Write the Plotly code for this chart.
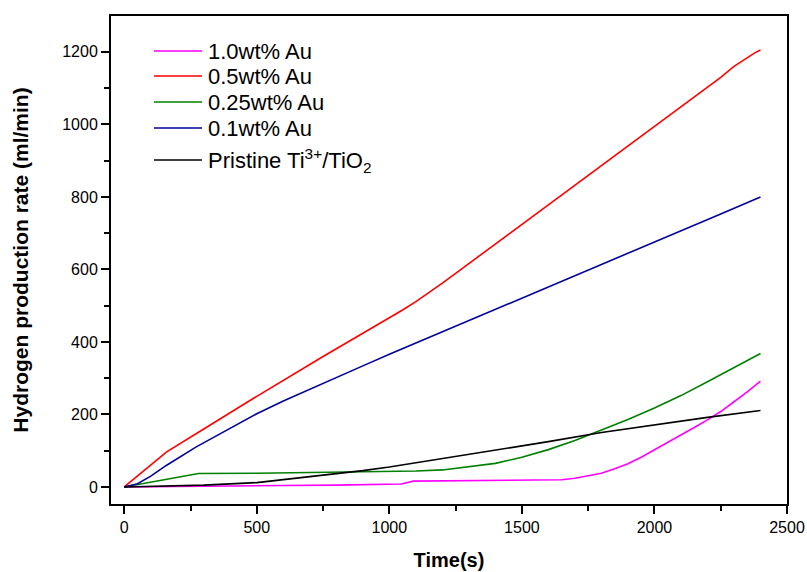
import plotly.graph_objects as go

# --- data ---
t_m = [0, 200, 400, 600, 800, 1000, 1045, 1090, 1200, 1400, 1600, 1650, 1700, 1750, 1800, 1850, 1900, 1950, 2000, 2050, 2100, 2150, 2200, 2250, 2300, 2350, 2400]
y_m = [0, 2, 3, 4, 5, 7, 8, 16, 17, 17, 19, 20, 24, 30, 38, 50, 64, 82, 102, 122, 143, 164, 185, 208, 235, 262, 292]

t_r = [0, 160, 300, 500, 750, 1000, 1050, 1100, 1150, 1200, 1250, 1300, 1500, 1750, 2000, 2250, 2300, 2350, 2380, 2400]
y_r = [0, 97, 160, 250, 360, 466, 488, 511, 536, 562, 589, 616, 725, 860, 995, 1130, 1160, 1185, 1198, 1205]

t_g = [0, 280, 500, 800, 1000, 1100, 1200, 1300, 1400, 1500, 1600, 1700, 1800, 1900, 2000, 2100, 2200, 2300, 2400]
y_g = [0, 37, 38, 40, 42, 44, 47, 55, 65, 82, 103, 128, 156, 186, 218, 252, 290, 328, 368]

t_b = [0, 50, 100, 160, 270, 400, 500, 600, 700, 800, 900, 1000, 1250, 1500, 1750, 2000, 2250, 2400]
y_b = [0, 9, 30, 60, 110, 163, 202, 237, 270, 302, 334, 366, 443, 521, 598, 676, 753, 800]

t_k = [0, 300, 500, 700, 900, 1000, 1200, 1400, 1600, 1800, 2000, 2200, 2400]
y_k = [0, 5, 12, 28, 45, 55, 78, 100, 125, 150, 172, 192, 211]

names = ["1.0wt% Au", "0.5wt% Au", "0.25wt% Au", "0.1wt% Au",
         "Pristine Ti<sup>3+</sup>/TiO<sub>2</sub>"]
colors = ["#FF00FF", "#FF0000", "#008000", "#000099", "#000000"]
series = [(t_m, y_m), (t_r, y_r), (t_g, y_g), (t_b, y_b), (t_k, y_k)]

W, H = 807, 572
ML, MR, MT, MB = 111, 20, 16, 68
PW, PH = W - ML - MR, H - MT - MB


def px_x(px):
    return (px - ML) / PW


def px_y(py):
    return 1 - (py - MT) / PH


font_family = "Liberation Sans, Arial, sans-serif"

fig = go.Figure()
for (tx, ty), nm, c in zip(series, names, colors):
    fig.add_trace(go.Scatter(x=tx, y=ty, mode="lines", name=nm, showlegend=False,
                             line=dict(color=c, width=1.6)))

# manual legend
leg_y = [51, 76, 102, 128, 160]
for nm, c, ly in zip(names, colors, leg_y):
    fig.add_shape(type="line", xref="paper", yref="paper",
                  x0=px_x(154), x1=px_x(202), y0=px_y(ly), y1=px_y(ly),
                  line=dict(color=c, width=1.6))
    fig.add_annotation(xref="paper", yref="paper", x=px_x(206), y=px_y(ly),
                       text=nm, showarrow=False, xanchor="left", yanchor="middle",
                       font=dict(size=22, color="black", family=font_family))

axis_common = dict(showgrid=False, zeroline=False, showline=True, linecolor="black",
                   linewidth=2, mirror=True, ticks="outside", ticklen=8, tickwidth=1.5,
                   tickcolor="black", automargin=False,
                   tickfont=dict(size=16, color="black", family=font_family))

fig.update_xaxes(range=[-50, 2500], tickvals=[0, 500, 1000, 1500, 2000, 2500],
                 minor=dict(ticks="outside", ticklen=5, tickwidth=1.5, tickcolor="black", dtick=250, tick0=0),
                 title=dict(text="<b>Time(s)</b>", font=dict(size=20, color="black", family=font_family), standoff=18),
                 **axis_common)
fig.update_yaxes(range=[-47, 1299], tickvals=[0, 200, 400, 600, 800, 1000, 1200],
                 minor=dict(ticks="outside", ticklen=5, tickwidth=1.5, tickcolor="black", dtick=100, tick0=0),
                 title=dict(text="<b>Hydrogen production rate (ml/min)</b>", font=dict(size=21, color="black", family=font_family), standoff=28),
                 **axis_common)

fig.update_layout(
    width=W, height=H,
    margin=dict(l=ML, r=MR, t=MT, b=MB),
    plot_bgcolor="white", paper_bgcolor="white",
    font=dict(family=font_family, color="black"),
    showlegend=False,
)

fig.write_html("out.html", config={"displayModeBar": False},
               post_script="document.body.style.margin='0px';")
